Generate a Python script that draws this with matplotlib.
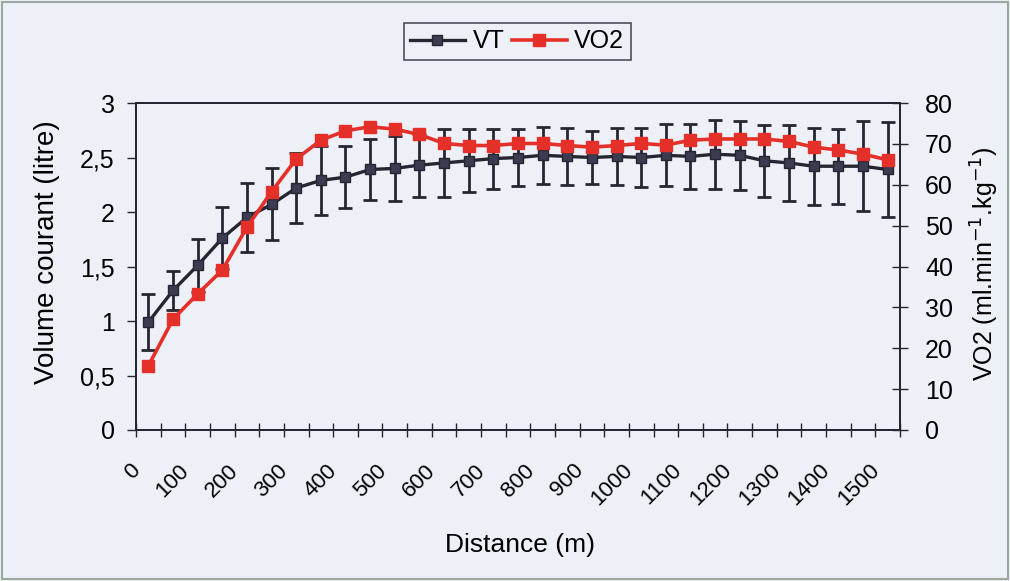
import numpy as np
import matplotlib.pyplot as plt
from matplotlib.patches import Rectangle
from matplotlib.lines import Line2D
from matplotlib.transforms import ScaledTranslation

plt.rcParams['font.family'] = ['Liberation Sans', 'DejaVu Sans']

# distance categories (m), one point every 50 m
distance = list(range(0, 1501, 50))
# tidal volume (litre), mean and sd
vt = [0.99, 1.28, 1.51, 1.76, 1.95, 2.07, 2.22, 2.29, 2.32, 2.39, 2.40,
      2.43, 2.45, 2.47, 2.49, 2.50, 2.52, 2.51, 2.50, 2.51, 2.50, 2.52,
      2.51, 2.53, 2.52, 2.47, 2.45, 2.42, 2.42, 2.42, 2.39]
vt_sd = [0.26, 0.18, 0.24, 0.285, 0.315, 0.33, 0.32, 0.32, 0.285, 0.28, 0.295,
         0.29, 0.31, 0.29, 0.275, 0.26, 0.26, 0.26, 0.245, 0.265, 0.27, 0.285,
         0.30, 0.315, 0.315, 0.33, 0.345, 0.355, 0.345, 0.415, 0.435]
# VO2 (ml/min/kg)
vo2 = [15.7, 27.1, 33.3, 39.1, 49.6, 58.3, 66.3, 70.9, 73.2, 74.2, 73.6,
       72.3, 70.1, 69.6, 69.6, 70.1, 70.1, 69.6, 69.2, 69.6, 70.1, 69.7,
       70.9, 71.2, 71.2, 71.2, 70.6, 69.2, 68.5, 67.5, 66.1]

left_ticks = [0, 0.5, 1, 1.5, 2, 2.5, 3]
left_labels = ['0', '0,5', '1', '1,5', '2', '2,5', '3']
right_ticks = [0, 10, 20, 30, 40, 50, 60, 70, 80]

bg = '#eef0f8'
dark = '#262633'
red = '#e5302a'

fig = plt.figure(figsize=(10.10, 5.81), dpi=100, facecolor=bg)
ax = fig.add_axes([0.1347, 0.2599, 0.7563, 0.5628])
ax.set_facecolor(bg)
ax2 = ax.twinx()

x = np.arange(len(distance))

ax.errorbar(x, vt, yerr=vt_sd, color=dark, ecolor=dark, elinewidth=2,
            capsize=5, capthick=2, lw=2.4, marker='s', ms=7.5,
            mfc='#3b3b52', mec=dark, zorder=3)
ax2.plot(x, vo2, color=red, lw=2.6, marker='s', ms=8,
         mfc=red, mec=red, zorder=4)

ax.set_xlim(-0.5, len(distance) - 0.5)
ax.set_ylim(0, 3)
ax2.set_ylim(0, 80)

# category boundaries carry the tick marks, labels every 100 m
ax.set_xticks(np.arange(-0.5, len(distance), 1))
ax.set_xticklabels([])
ax.tick_params(axis='x', which='major', direction='inout', length=10,
               width=1, color=dark)
ax.set_xticks(x[::2], minor=True)
ax.set_xticklabels([str(d) for d in distance[::2]], minor=True,
                   rotation=45, ha='right', va='top', rotation_mode='anchor',
                   fontsize=16)
ax.tick_params(axis='x', which='minor', length=0, pad=0)

ax.set_yticks(left_ticks)
ax.set_yticklabels(left_labels, fontsize=18)
ax.tick_params(axis='y', direction='out', length=6.5, width=1, color=dark, pad=9)
ax2.set_yticks(right_ticks)
ax2.set_yticklabels([str(t) for t in right_ticks], fontsize=18)
ax2.tick_params(axis='y', direction='inout', length=12, width=1, color=dark,
                pad=12)

for a in (ax, ax2):
    for s in a.spines.values():
        s.set_color(dark)
        s.set_linewidth(1.3)

ax.set_xlabel('Distance (m)', fontsize=19)
ax.xaxis.set_label_coords(0.503, -0.315)
ax.set_ylabel('Volume courant (litre)', fontsize=20)
ax.yaxis.set_label_coords(-0.0995, 0.544)
ax2.set_ylabel('VO2 (ml.min$^{-1}$.kg$^{-1}$)', fontsize=18)
ax2.yaxis.set_label_coords(1.09, 0.51)

handles = [Line2D([], [], color=dark, lw=2.4, marker='s', ms=7.5,
                  mfc='#3b3b52', mec=dark),
           Line2D([], [], color=red, lw=2.6, marker='s', ms=8,
                  mfc=red, mec=red)]
leg = fig.legend(handles, ['VT', 'VO2'], loc='upper center',
                 bbox_to_anchor=(0.512, 0.96), ncol=2, fontsize=18,
                 frameon=True, fancybox=False, edgecolor=dark,
                 handlelength=2.2, columnspacing=0.3, handletextpad=0.3,
                 borderpad=0.25, borderaxespad=0)
leg.get_frame().set_facecolor(bg)
leg.get_frame().set_linewidth(1.2)

fig.patches.append(Rectangle((0.002, 0.003), 0.996, 0.994,
                             transform=fig.transFigure, fill=False,
                             edgecolor='#9aa8a0', lw=1.5))

# shift the slanted distance labels down-left of each category centre
fig.canvas.draw()
shift = ScaledTranslation(-0.19, -0.30, fig.dpi_scale_trans)
for tick in ax.xaxis.get_minor_ticks():
    tick.label1.set_transform(tick.label1.get_transform() + shift)

fig.savefig('out.png', dpi=100, facecolor=bg)
